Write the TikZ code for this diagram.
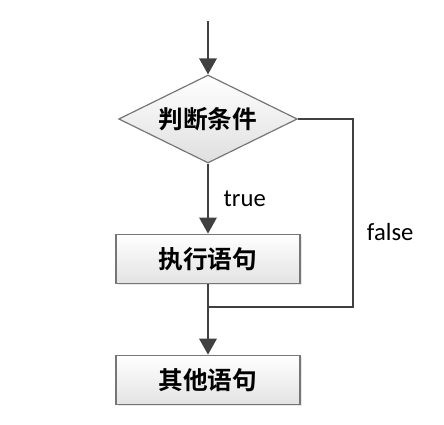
\documentclass[tikz,border=0pt]{standalone}
\usepackage{fontspec}
\newfontfamily\cjk{Noto Sans CJK SC}[BoldFont={* Bold}]
\newfontfamily\lab{Carlito}
\usepackage{tikz}
\usetikzlibrary{shapes, shapes.geometric, arrows.meta, positioning, shadows, calc}

\definecolor{linegray}{HTML}{404040}
\definecolor{boxgray}{HTML}{767676}

\tikzset{
    decision/.style={diamond, aspect=2, draw=boxgray, line width=0.9pt, inner sep=0pt,
        minimum width=134pt, minimum height=66pt, top color=white, bottom color=gray!25,
        font=\cjk\bfseries\fontsize{18.5}{20}\selectfont},
    stmt/.style={rectangle, draw=boxgray, line width=0.8pt, inner sep=0pt,
        minimum width=138pt, minimum height=37pt, top color=white, bottom color=gray!22,
        drop shadow={shadow xshift=1.2pt, shadow yshift=-1.2pt, fill=gray!35},
        font=\cjk\bfseries\fontsize{18.5}{20}\selectfont},
    flow/.style={draw=linegray, line width=1.6pt, -{Triangle[width=13pt, length=12pt]}},
    back/.style={draw=linegray, line width=1.6pt},
    tag/.style={inner sep=0pt, font=\lab\fontsize{18.5}{20}\selectfont}
}

\begin{document}
\begin{tikzpicture}
    \useasboundingbox (0,0) rectangle (333pt,-318.75pt);
    \node[decision] (cond) at (156pt,-89.25pt) {判断条件};
    \node[stmt, below=52.5pt of cond] (exec) {执行语句};
    \node[stmt, below=53pt of exec] (other) {其他语句};
    \coordinate[above=40pt of cond] (start);
    \coordinate[right=41pt of cond] (corner);
    \coordinate[below=17pt of exec] (join);

    \draw[flow] (start) -- (cond);
    \draw[flow] (cond) -- node[tag, right=11pt] {true} (exec);
    \draw[flow] (exec) -- (other);
    \draw[back] (cond.east) -- (corner) |- node[tag, pos=0.3, right=10pt] {false} (join);
\end{tikzpicture}
\end{document}
